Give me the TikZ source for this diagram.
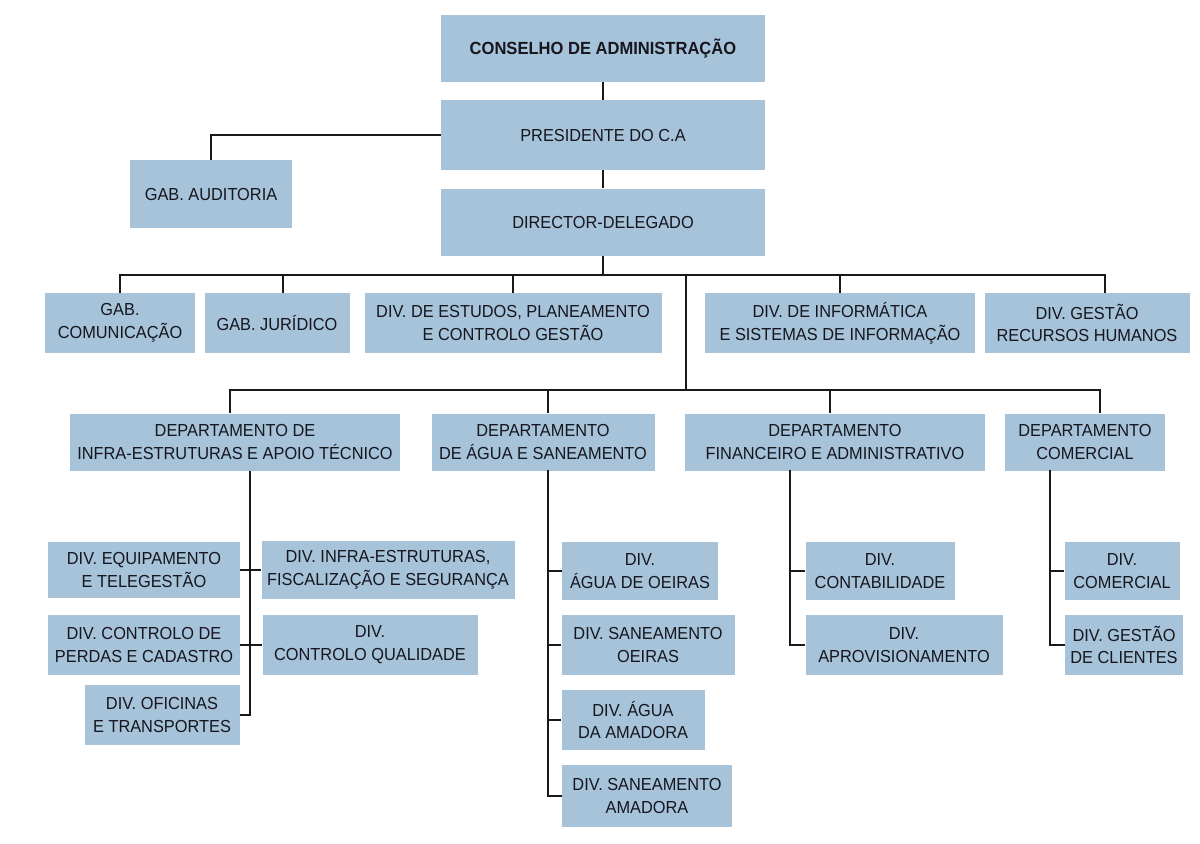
\documentclass[tikz,border=0pt]{standalone}
\usepackage{fontspec}
\setmainfont{Liberation Sans}[FakeStretch=0.94]
\usetikzlibrary{calc}
\definecolor{OrgBlue}{RGB}{166,195,218}
\definecolor{OrgText}{RGB}{22,22,30}
\definecolor{OrgLine}{RGB}{25,25,25}

\begin{document}
\begin{tikzpicture}[x=0.5pt,y=-0.5pt,
    unit/.style={fill=OrgBlue,text=OrgText,align=center,inner sep=2pt,
                 font=\fontsize{8.7}{11.4}\selectfont},
    sz/.style 2 args={minimum width=#1*0.5pt,minimum height=#2*0.5pt},
    link/.style={draw=OrgLine,line width=0.7pt}]
  \useasboundingbox (0,0) rectangle (1200,843);

  % direction
  \node[unit,sz={324}{67},font=\bfseries\fontsize{8.8}{11}\selectfont] (conselho) at (603,48) {CONSELHO DE ADMINISTRAÇÃO};
  \node[unit,sz={324}{70}] (presidente) at (603,135) {PRESIDENTE DO C.A};
  \node[unit,sz={324}{67}] (director) at (603,222) {DIRECTOR-DELEGADO};
  \node[unit,sz={162}{68}] (auditoria) at (211,194) {GAB. AUDITORIA};

  % gabinetes e divisoes de apoio
  \node[unit,sz={150}{60}] (comunicacao) at (120,323) {GAB.\\COMUNICAÇÃO};
  \node[unit,sz={145}{60}] (juridico) at (277,323) {GAB. JURÍDICO};
  \node[unit,sz={297}{60}] (estudos) at (513,323) {DIV. DE ESTUDOS, PLANEAMENTO\\E CONTROLO GESTÃO};
  \node[unit,sz={270}{60}] (informatica) at (840,323) {DIV. DE INFORMÁTICA\\E SISTEMAS DE INFORMAÇÃO};
  \node[unit,sz={205}{60}] (rh) at (1087,323) {DIV. GESTÃO\\RECURSOS HUMANOS};

  % departamentos
  \node[unit,sz={330}{57}] (infra) at (235,442) {DEPARTAMENTO DE\\INFRA-ESTRUTURAS E APOIO TÉCNICO};
  \node[unit,sz={223}{57}] (agua) at (543,442) {DEPARTAMENTO\\DE ÁGUA E SANEAMENTO};
  \node[unit,sz={300}{57}] (financeiro) at (835,442) {DEPARTAMENTO\\FINANCEIRO E ADMINISTRATIVO};
  \node[unit,sz={160}{57}] (comercial) at (1085,442) {DEPARTAMENTO\\COMERCIAL};

  % divisoes
  \node[unit,sz={192}{56}] (equipamento) at (144,570) {DIV. EQUIPAMENTO\\E TELEGESTÃO};
  \node[unit,sz={253}{58}] (fiscalizacao) at (388,570) {DIV. INFRA-ESTRUTURAS,\\FISCALIZAÇÃO E SEGURANÇA};
  \node[unit,sz={192}{60}] (perdas) at (144,645) {DIV. CONTROLO DE\\PERDAS E CADASTRO};
  \node[unit,sz={215}{60}] (qualidade) at (370,645) {DIV.\\CONTROLO QUALIDADE};
  \node[unit,sz={155}{60}] (oficinas) at (162,715) {DIV. OFICINAS\\E TRANSPORTES};

  \node[unit,sz={156}{58}] (aguaoeiras) at (640,571) {DIV.\\ÁGUA DE OEIRAS};
  \node[unit,sz={173}{60}] (sanoeiras) at (648,645) {DIV. SANEAMENTO\\OEIRAS};
  \node[unit,sz={143}{60}] (aguaamadora) at (633,720) {DIV. ÁGUA\\DA AMADORA};
  \node[unit,sz={170}{62}] (sanamadora) at (647,796) {DIV. SANEAMENTO\\AMADORA};

  \node[unit,sz={149}{58}] (contabilidade) at (880,571) {DIV.\\CONTABILIDADE};
  \node[unit,sz={197}{60}] (aprovisionamento) at (904,645) {DIV.\\APROVISIONAMENTO};

  \node[unit,sz={115}{58}] (divcomercial) at (1122,571) {DIV.\\COMERCIAL};
  \node[unit,sz={118}{60}] (clientes) at (1124,645) {DIV. GESTÃO\\DE CLIENTES};

  % ligacoes
  \coordinate (bus1) at (603,275);
  \coordinate (bus2) at (686,390);
  \coordinate (aguatrunk) at (548,470);
  \coordinate (fintrunk) at (790,470);
  \coordinate (comtrunk) at (1050,470);

  \draw[link] (conselho) -- (presidente);
  \draw[link] (presidente) -- (director);
  \draw[link] (presidente.west) -| (auditoria.north);
  \draw[link] (director.south) -- (bus1);
  \draw[link] (bus1) -| (bus2);
  \foreach \n in {comunicacao,estudos,informatica}
    \draw[link] (\n.north) |- (bus1);
  \draw[link] ([xshift=3pt]juridico.north) |- (bus1);
  \draw[link] ([xshift=9pt]rh.north) |- (bus1);

  \draw[link] ([xshift=-2.5pt]infra.north) |- (bus2);
  \draw[link] ([xshift=2.5pt]agua.north) |- (bus2);
  \draw[link] ([xshift=-2.5pt]financeiro.north) |- (bus2);
  \draw[link] ([xshift=7.5pt]comercial.north) |- (bus2);

  \draw[link] ([xshift=7.5pt]infra.south) |- (oficinas.east);
  \draw[link] (equipamento) -- (fiscalizacao);
  \draw[link] (perdas) -- (qualidade);

  \draw[link] (aguatrunk) |- (sanamadora.west);
  \foreach \n in {aguaoeiras,sanoeiras,aguaamadora}
    \draw[link] (\n.west) -- (\n.west -| aguatrunk);

  \draw[link] (fintrunk) |- (aprovisionamento.west);
  \draw[link] (contabilidade.west) -- (contabilidade.west -| fintrunk);

  \draw[link] (comtrunk) |- (clientes.west);
  \draw[link] (divcomercial.west) -- (divcomercial.west -| comtrunk);
\end{tikzpicture}
\end{document}
